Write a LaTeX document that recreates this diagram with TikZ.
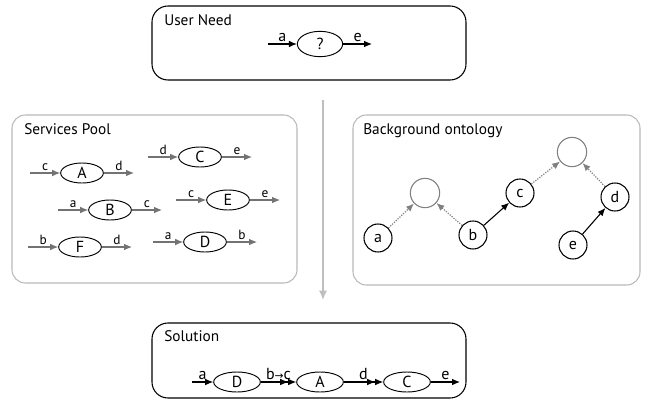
\documentclass[tikz,border=0pt]{standalone}
\usepackage{fontspec}
\setmainfont{PT Sans}
\newfontfamily\symfont{DejaVu Sans}
\usetikzlibrary{arrows.meta,shapes.geometric}

\begin{document}
\begin{tikzpicture}[x=0.75pt, y=-0.75pt,
	box/.style = {draw, line width=0.8pt, rounded corners=12pt},
	gbox/.style = {draw=gray!55, line width=0.8pt, rounded corners=10pt},
	title/.style = {anchor=base west, font=\fontsize{11.5}{13}\selectfont, inner sep=0pt},
	svc/.style = {draw, ellipse, line width=0.7pt, minimum width=32pt, minimum height=15pt, inner sep=0pt, font=\large},
	onode/.style = {draw, circle, line width=0.8pt, minimum size=21pt, inner sep=0pt, font=\large},
	ghost/.style = {draw=gray, circle, line width=0.8pt, minimum size=22pt},
	lbl/.style = {font=\normalsize, inner sep=1.2pt, above},
	big/.style = {font=\large},
	arr/.style = {-{Latex[length=6pt,width=5pt]}, line width=0.8pt},
	garr/.style = {arr, draw=gray!90!black, gray!90!black},
	darr/.style = {-{Latex[length=6pt,width=5pt]}, gray, densely dotted, line width=0.9pt},
	dbl/.style = {-{Latex[length=6pt,width=5pt]Latex[length=6pt,width=5pt]}, line width=0.8pt}]
	\useasboundingbox (0,0) rectangle (652,400);

	% Boxes
	\draw[box] (152,6) rectangle (466,80);
	\draw[gbox] (12,115) rectangle (297,283);
	\draw[gbox] (353,115) rectangle (640,285);
	\draw[box] (152,323) rectangle (466,398);

	\node[title] (needT) at (164,25) {User Need};
	\node[title] (poolT) at (24,134) {Services Pool};
	\node[title] (ontoT) at (363,134) {Background ontology};
	\node[title] (solT) at (164,341) {Solution};

	% User need
	\node[svc, minimum height=19pt, minimum width=34pt] (Q) at (320,44) {?};
	\coordinate (Qin) at (268,44);
	\coordinate (Qout) at (372,44);
	\draw[arr] (Qin) -- (Q) node[lbl, big, midway] {a};
	\draw[arr] (Q) -- (Qout) node[lbl, big, midway] {e};

	% Services pool
	\foreach \n/\x/\y/\i/\o in {A/82/173/c/d, C/200/157/d/e, B/110/210/a/c,
		E/228/200/c/e, F/80/247/b/d, D/205/242/a/b} {
		\node[svc] (\n) at (\x,\y) {\n};
		\coordinate (\n in) at (\x-52,\y);
		\coordinate (\n out) at (\x+52,\y);
		\draw[garr] (\n in) -- (\n) node[lbl, midway, black] {\i};
		\draw[garr] (\n) -- (\n out) node[lbl, midway, black] {\o};
	}

	% Ontology
	\node[ghost] (g1) at (425,193) {};
	\node[ghost] (g2) at (572,152) {};
	\node[onode] (a) at (378,238) {a};
	\node[onode] (b) at (473,235) {b};
	\node[onode] (c) at (520,193) {c};
	\node[onode] (d) at (615,197) {d};
	\node[onode] (e) at (573,245) {e};

	\draw[darr] (a) -- (g1);
	\draw[darr] (b) -- (g1);
	\draw[darr] (c) -- (g2);
	\draw[darr] (d) -- (g2);
	\draw[arr] (b) -- (c);
	\draw[arr] (e) -- (d);

	% Arrow from need to solution
	\coordinate (top) at (323,100);
	\coordinate (bot) at (323,300);
	\draw[-{Latex[length=7pt,width=6pt]}, gray!50, line width=1pt] (top) -- (bot);

	% Solution
	\node[svc, minimum width=35pt] (sD) at (237,382) {D};
	\node[svc, minimum width=35pt] (sA) at (320,382) {A};
	\node[svc, minimum width=35pt] (sC) at (407,382) {C};
	\coordinate (sin) at (192,382);
	\coordinate (sout) at (460,382);
	\draw[arr] (sin) -- (sD) node[lbl, big, midway] {a};
	\draw[dbl] (sD) -- (sA) node[lbl, big, midway] {b{\symfont\footnotesize →}c};
	\draw[dbl] (sA) -- (sC) node[lbl, big, midway] {d};
	\draw[arr] (sC) -- (sout) node[lbl, big, midway] {e};
\end{tikzpicture}
\end{document}
